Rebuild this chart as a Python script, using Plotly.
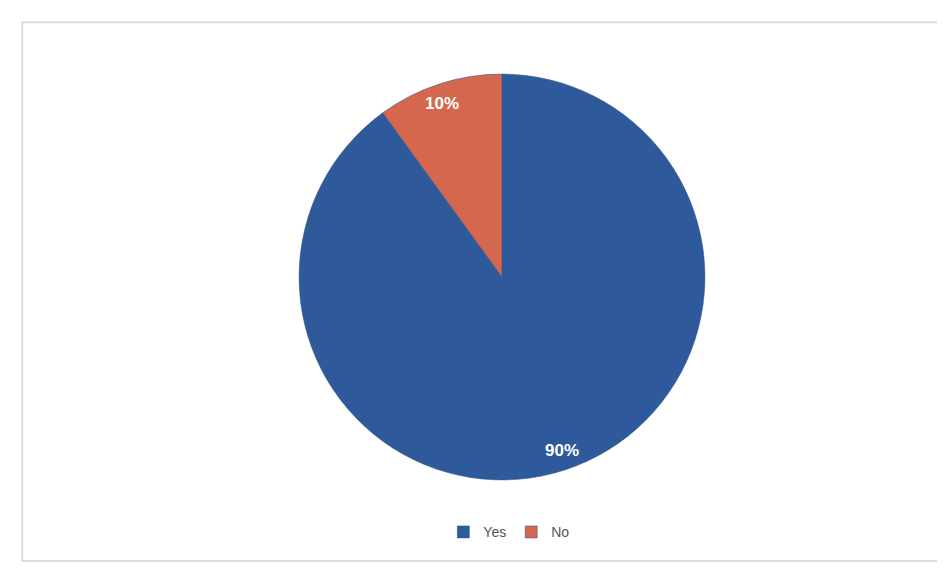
import math
import plotly.graph_objects as go

labels = ["Yes", "No"]
values = [90, 10]
colors = ["#2E5A9B", "#D5674F"]

W, H = 945, 573
dom_x = [0.308, 0.7375]
dom_y = [0.176, 0.885]

fig = go.Figure(go.Pie(
    labels=labels,
    values=values,
    sort=False,
    direction="clockwise",
    rotation=0,
    marker=dict(colors=colors, line=dict(color="#2a4f8a", width=0.5)),
    textinfo="none",
    domain=dict(x=dom_x, y=dom_y),
    hoverinfo="label+percent",
))

# percentage labels placed near the rim, at each slice's mid-angle (derived from values)
cx = (dom_x[0] + dom_x[1]) / 2 * W
cy = (dom_y[0] + dom_y[1]) / 2 * H
rad = min((dom_x[1] - dom_x[0]) * W, (dom_y[1] - dom_y[0]) * H) / 2
total = sum(values)
cum = 0
annotations = []
for lab, v in zip(labels, values):
    mid = (cum + v / 2) / total * 2 * math.pi
    cum += v
    r = rad * 0.96
    px = cx + r * math.sin(mid)
    py = cy + r * math.cos(mid)
    annotations.append(dict(x=px / W, y=py / H, xref="paper", yref="paper",
                            text=f"{round(v / total * 100)}%", showarrow=False,
                            font=dict(family="Liberation Sans, Arial", size=17, color="white", weight="bold")))

fig.update_layout(
    width=W, height=H,
    margin=dict(l=0, r=0, t=0, b=0),
    paper_bgcolor="white",
    plot_bgcolor="white",
    showlegend=True,
    legend=dict(orientation="h", x=0.53, xanchor="center", y=0.085, yanchor="middle",
                font=dict(family="Liberation Sans, Arial", size=14, color="#555555"),
                itemwidth=30),
    annotations=annotations,
    shapes=[dict(type="rect", xref="paper", yref="paper", x0=0.015, x1=0.998, y0=0.035, y1=0.975,
                 line=dict(color="#dcdcdc", width=2), fillcolor="rgba(0,0,0,0)", layer="below")],
)

fig.write_html("out.html")
